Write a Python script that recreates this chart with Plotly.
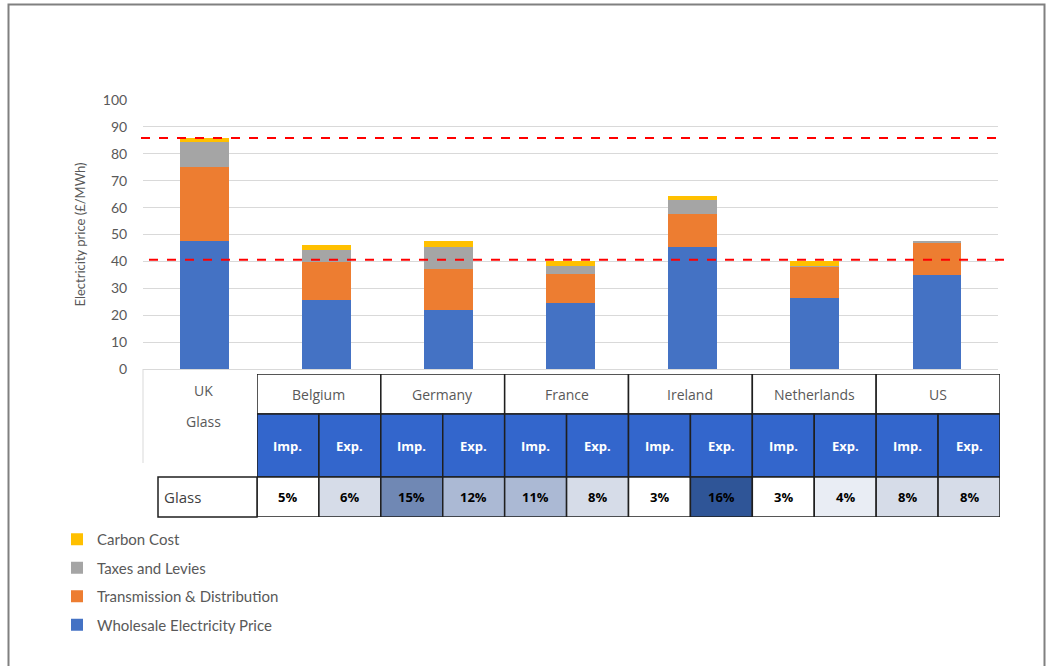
import plotly.graph_objects as go

# ---------------- data ----------------
countries = ["UK", "Belgium", "Germany", "France", "Ireland", "Netherlands", "US"]
wholesale = [47.6, 25.6, 21.8, 24.6, 45.4, 26.4, 34.9]
transmission = [27.6, 14.2, 15.2, 10.9, 12.4, 11.6, 12.0]
taxes = [9.2, 4.4, 8.4, 2.8, 5.2, 0.4, 0.5]
carbon = [1.5, 1.8, 2.0, 1.8, 1.4, 1.8, 0.0]
reference_lines = [85.9, 40.6]

table_countries = ["Belgium", "Germany", "France", "Ireland", "Netherlands", "US"]
sub_headers = ["Imp.", "Exp."]
imp_share = [5, 15, 11, 3, 3, 8]
exp_share = [6, 12, 8, 16, 4, 8]
imp_colors = ["#FFFFFF", "#7088B4", "#ABB9D4", "#FFFFFF", "#FFFFFF", "#D6DCE8"]
exp_colors = ["#D6DCE8", "#ABB9D4", "#D6DCE8", "#2F5597", "#E9EDF4", "#D6DCE8"]
row_label = "Glass"
corner_labels = ["UK", "Glass"]

# ---------------- geometry helpers ----------------
W, H = 1046, 666
def px(x):
    return x / W
def py(y):
    return (H - y) / H

FONT = "Lato, 'Open Sans', sans-serif"
TFONT = "'Open Sans', 'Noto Sans', sans-serif"
GREY = "#595959"

fig = go.Figure()
series = [
    ("Wholesale Electricity Price", wholesale, "#4472C4", 4),
    ("Transmission & Distribution", transmission, "#ED7D31", 3),
    ("Taxes and Levies", taxes, "#A5A5A5", 2),
    ("Carbon Cost", carbon, "#FFC000", 1),
]
for i, (name, vals, col, rank) in enumerate(series):
    fig.add_trace(go.Bar(
        x=countries, y=vals, name=name, width=0.4,
        marker=dict(color=col, line=dict(width=0)),
        legendgroup=f"g{rank}", legendrank=rank,
    ))

shapes = []
# reference dashed lines
for v, (xa, xb) in zip(reference_lines, [(141, 1004), (149, 1012)]):
    shapes.append(dict(type="line", xref="paper", yref="y", x0=px(xa), x1=px(xb), y0=v, y1=v,
                       line=dict(color="#FF0000", width=2, dash="dash"), layer="above"))

annotations = []

# ---------------- table ----------------
row_edges = [0, 40, 103, 143]
BORDER = dict(color="#1F1F1F", width=1.5)
for ci, c in enumerate(table_countries):
    x0, x1 = 2 * ci, 2 * ci + 2
    shapes.append(dict(type="rect", xref="x2", yref="y2", x0=x0, x1=x1, y0=row_edges[0], y1=row_edges[1],
                       fillcolor="#FFFFFF", line=BORDER, layer="above"))
    annotations.append(dict(xref="x2", yref="y2", x=(x0 + x1) / 2, y=(row_edges[0] + row_edges[1]) / 2,
                            xanchor="center", yanchor="middle",
                            text=c, showarrow=False, font=dict(family=TFONT, size=14, color=GREY)))
    for si, (lab, val, colr) in enumerate(zip(sub_headers, [imp_share[ci], exp_share[ci]],
                                              [imp_colors[ci], exp_colors[ci]])):
        sx0, sx1 = x0 + si, x0 + si + 1
        shapes.append(dict(type="rect", xref="x2", yref="y2", x0=sx0, x1=sx1, y0=row_edges[1], y1=row_edges[2],
                           fillcolor="#3366CC", line=BORDER, layer="above"))
        annotations.append(dict(xref="x2", yref="y2", x=(sx0 + sx1) / 2, y=(row_edges[1] + row_edges[2]) / 2,
                                xanchor="center", yanchor="middle",
                                text=f"<b>{lab}</b>", showarrow=False,
                                font=dict(family=TFONT, size=13, color="#FFFFFF")))
        shapes.append(dict(type="rect", xref="x2", yref="y2", x0=sx0, x1=sx1, y0=row_edges[2], y1=row_edges[3],
                           fillcolor=colr, line=BORDER, layer="above"))
        annotations.append(dict(xref="x2", yref="y2", x=(sx0 + sx1) / 2, y=(row_edges[2] + row_edges[3]) / 2,
                                xanchor="center", yanchor="middle",
                                text=f"<b>{val}%</b>", showarrow=False,
                                font=dict(family=TFONT, size=13, color="#000000")))

# row label cell
shapes.append(dict(type="rect", xref="paper", yref="paper", x0=px(158), x1=px(257), y0=py(477), y1=py(517),
                   fillcolor="#FFFFFF", line=BORDER, layer="above"))
annotations.append(dict(xref="paper", yref="paper", x=px(162), y=py(497), xanchor="left", yanchor="middle",
                        text=row_label, showarrow=False, font=dict(family=TFONT, size=15, color="#404040")))
# corner label (light grey left edge)
shapes.append(dict(type="line", xref="paper", yref="paper", x0=px(143), x1=px(143), y0=py(369), y1=py(463),
                   line=dict(color="#D9D9D9", width=1)))
for lab, yy in zip(corner_labels, [391, 421]):
    annotations.append(dict(xref="paper", yref="paper", x=px(203), y=py(yy), xanchor="center", yanchor="middle",
                            text=lab, showarrow=False, font=dict(family=TFONT, size=14, color=GREY)))

# outer frame
shapes.append(dict(type="rect", xref="paper", yref="paper", x0=px(8.5), x1=px(1044.5), y0=-0.05, y1=py(4.5),
                   line=dict(color="#808080", width=2), fillcolor="rgba(0,0,0,0)"))

fig.update_layout(
    width=W, height=H,
    margin=dict(l=0, r=0, t=0, b=0),
    paper_bgcolor="#FFFFFF", plot_bgcolor="#FFFFFF",
    barmode="stack", bargap=0.6,
    font=dict(family=FONT, color=GREY),
    xaxis=dict(domain=[px(143), px(998)], type="category", range=[-0.5, 6.5], showticklabels=False,
               showgrid=False, zeroline=False, showline=False, fixedrange=True),
    yaxis=dict(domain=[py(369), py(100)], range=[0, 100], dtick=10, showgrid=True, gridcolor="#D9D9D9",
               gridwidth=1, zeroline=True, zerolinecolor="#D9D9D9", zerolinewidth=1,
               ticks="outside", ticklen=12, tickcolor="rgba(0,0,0,0)",
               tickfont=dict(family=FONT, size=14, color=GREY),
               title=dict(text="Electricity price (£/MWh)", font=dict(family=FONT, size=13, color=GREY), standoff=14),
               automargin=False, fixedrange=True),
    xaxis2=dict(domain=[px(257), px(1000)], range=[0, 12], visible=False, anchor="y2", fixedrange=True),
    yaxis2=dict(domain=[py(517), py(374)], range=[row_edges[-1], row_edges[0]], visible=False, anchor="x2",
                fixedrange=True),
    legend=dict(x=px(57), y=py(523), xanchor="left", yanchor="top", traceorder="grouped",
                tracegroupgap=6, font=dict(family=FONT, size=15, color=GREY), itemwidth=30,
                bgcolor="rgba(0,0,0,0)"),
    shapes=shapes,
    annotations=annotations,
    showlegend=True,
)
# invisible trace to activate the table axes
fig.add_trace(go.Scatter(x=[0], y=[0], xaxis="x2", yaxis="y2", mode="markers",
                         marker=dict(opacity=0), showlegend=False, hoverinfo="skip"))

fig.write_html("out.html", config={"displayModeBar": False},
               post_script="document.body.style.margin='0px';")
